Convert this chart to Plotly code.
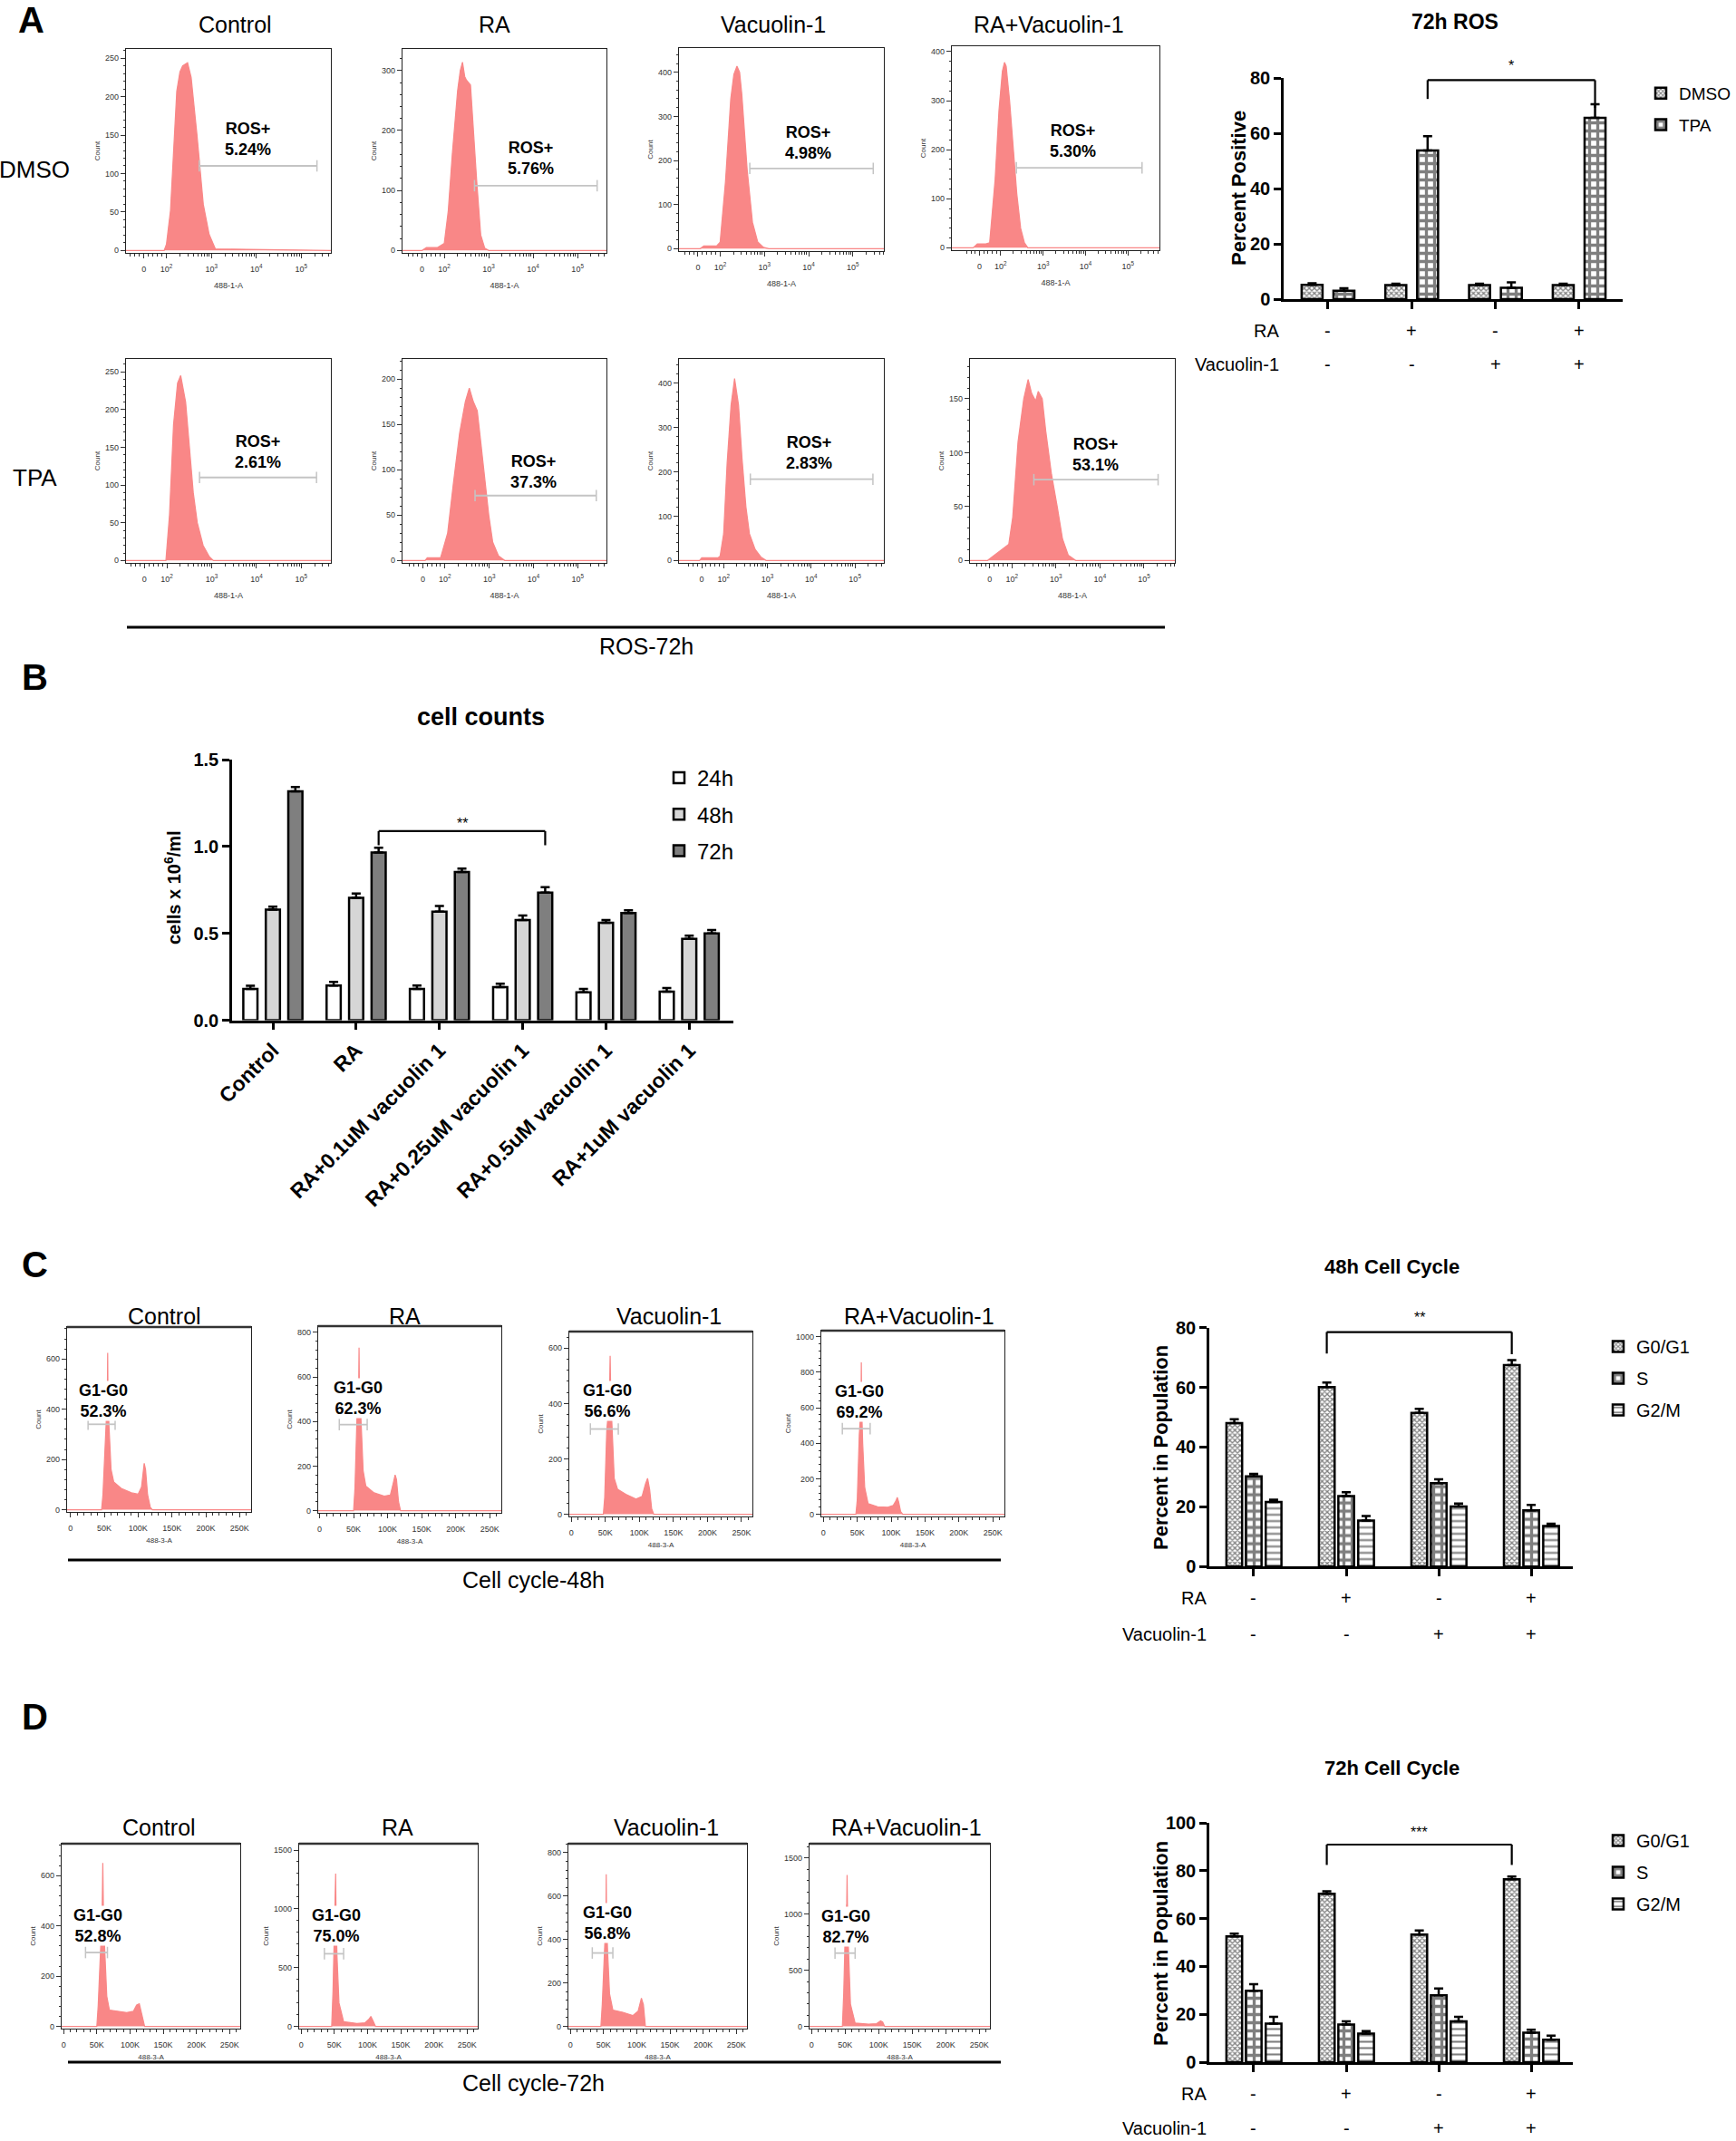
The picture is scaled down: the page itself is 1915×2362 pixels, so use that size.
import math
import plotly.graph_objects as go

W, H = 1915, 2362

# ======================= DATA =======================
conditions = ["Control", "RA", "Vacuolin-1", "RA+Vacuolin-1"]
ra_signs = ["-", "+", "-", "+"]
vac_signs = ["-", "-", "+", "+"]

# 72h ROS (percent positive)
ros_dmso_mean = [5.2, 5.1, 5.1, 5.1]
ros_dmso_err = [0.5, 0.5, 0.5, 0.5]
ros_tpa_mean = [3.0, 53.8, 4.1, 65.6]
ros_tpa_err = [0.9, 5.1, 2.0, 4.9]

# cell counts (x10^6/ml)
count_groups = ["Control", "RA", "RA+0.1uM vacuolin 1", "RA+0.25uM vacuolin 1",
                "RA+0.5uM vacuolin 1", "RA+1uM vacuolin 1"]
count_24h = [0.18, 0.20, 0.18, 0.19, 0.16, 0.165]
count_24h_err = [0.018, 0.02, 0.02, 0.02, 0.02, 0.02]
count_48h = [0.636, 0.705, 0.625, 0.576, 0.561, 0.468]
count_48h_err = [0.018, 0.024, 0.033, 0.026, 0.015, 0.019]
count_72h = [1.318, 0.965, 0.853, 0.734, 0.617, 0.50]
count_72h_err = [0.024, 0.028, 0.019, 0.032, 0.015, 0.019]

# 48h cell cycle (%)
cc48_g0g1 = [48.0, 60.1, 51.4, 67.4]
cc48_g0g1_err = [1.3, 1.5, 1.4, 1.7]
cc48_s = [30.2, 23.6, 27.9, 18.8]
cc48_s_err = [0.8, 1.3, 1.3, 1.8]
cc48_g2m = [21.6, 15.4, 20.1, 13.6]
cc48_g2m_err = [0.8, 1.5, 1.0, 0.7]

# 72h cell cycle (%)
cc72_g0g1 = [52.6, 70.4, 53.3, 76.4]
cc72_g0g1_err = [1.1, 1.0, 1.7, 1.2]
cc72_s = [29.8, 15.7, 27.9, 12.3]
cc72_s_err = [2.8, 1.3, 2.9, 1.2]
cc72_g2m = [16.1, 11.9, 17.0, 9.4]
cc72_g2m_err = [2.8, 1.1, 1.9, 1.7]

# ROS flow histograms (x in display decades: 2 = 10^2, ...; y = count)
ros_dmso_ctrl_x = [1.1, 1.95, 2.0, 2.09, 2.16, 2.23, 2.3, 2.36, 2.47, 2.55, 2.68, 2.82, 2.95, 3.09, 5.66]
ros_dmso_ctrl_y = [0, 0, 8, 52, 130, 207, 232, 240, 244, 225, 150, 60, 21, 2, 0]
ros_dmso_ra_x = [1.06, 1.5, 1.6, 1.85, 2.0, 2.09, 2.18, 2.25, 2.3, 2.36, 2.41, 2.46, 2.5, 2.59, 2.64, 2.73, 2.82, 2.91, 3.0, 5.65]
ros_dmso_ra_y = [0, 0, 5, 5, 12, 66, 160, 216, 266, 300, 314, 290, 284, 276, 216, 116, 26, 4, 0, 0]
ros_dmso_vac_x = [1.07, 1.55, 1.63, 1.92, 2.0, 2.12, 2.24, 2.31, 2.38, 2.44, 2.49, 2.61, 2.73, 2.85, 2.98, 3.1, 5.7]
ros_dmso_vac_y = [0, 0, 6, 6, 15, 151, 340, 395, 414, 400, 350, 180, 60, 15, 3, 0, 0]
ros_dmso_ravac_x = [0.85, 1.35, 1.45, 1.65, 1.74, 1.87, 1.96, 2.04, 2.09, 2.13, 2.21, 2.3, 2.38, 2.47, 2.56, 2.64, 5.74]
ros_dmso_ravac_y = [0, 0, 8, 8, 10, 140, 280, 360, 378, 370, 300, 200, 110, 40, 10, 0, 0]
ros_tpa_ctrl_x = [1.09, 1.98, 2.06, 2.15, 2.24, 2.31, 2.42, 2.5, 2.59, 2.68, 2.81, 2.95, 3.04, 5.66]
ros_tpa_ctrl_y = [0, 0, 60, 180, 235, 245, 210, 150, 90, 50, 20, 5, 0, 0]
ros_tpa_ra_x = [1.04, 1.55, 1.6, 1.9, 1.93, 2.06, 2.19, 2.33, 2.46, 2.55, 2.64, 2.73, 2.81, 2.9, 2.99, 3.08, 3.21, 3.35, 5.65]
ros_tpa_ra_y = [0, 0, 3, 3, 8, 30, 85, 140, 175, 190, 175, 165, 130, 90, 50, 20, 5, 0, 0]
ros_tpa_vac_x = [0.98, 1.45, 1.5, 1.87, 1.92, 2.0, 2.08, 2.17, 2.25, 2.34, 2.42, 2.51, 2.59, 2.72, 2.85, 2.97, 5.66]
ros_tpa_vac_y = [0, 0, 6, 6, 10, 60, 220, 350, 410, 350, 230, 120, 60, 25, 8, 0, 0]
ros_tpa_ravac_x = [1.05, 1.45, 1.51, 1.76, 1.93, 2.02, 2.14, 2.27, 2.37, 2.45, 2.54, 2.6, 2.69, 2.77, 2.9, 3.03, 3.15, 3.28, 3.45, 5.7]
ros_tpa_ravac_y = [0, 0, 2, 10, 15, 40, 110, 150, 168, 155, 148, 157, 150, 120, 80, 50, 20, 5, 0, 0]

ros_dmso_pct = ["5.24%", "5.76%", "4.98%", "5.30%"]
ros_tpa_pct = ["2.61%", "37.3%", "2.83%", "53.1%"]
# gates: [start, end, count level]
ros_dmso_gates = [[2.73, 5.35, 110], [2.68, 5.44, 108], [2.67, 5.46, 182], [2.37, 5.33, 163]]
ros_tpa_gates = [[2.73, 5.34, 110], [2.68, 5.42, 71.5], [2.61, 5.41, 183], [2.5, 5.32, 75]]

# cell-cycle histograms (x in thousands, y = count)
cc48_ctrl_x = [-5, 46, 48, 52, 54.5, 55, 55.5, 57, 60, 64, 75, 90, 100, 105, 109, 111, 114, 118, 121, 267]
cc48_ctrl_y = [0, 0, 60, 330, 450, 624, 450, 330, 160, 110, 85, 68, 62, 90, 185, 160, 60, 10, 0, 0]
cc48_ra_x = [-2, 50, 52, 55, 57.5, 58, 58.5, 61, 64, 68, 80, 95, 104, 108, 111, 113, 116, 119, 267]
cc48_ra_y = [0, 0, 100, 420, 550, 731, 550, 400, 180, 110, 80, 65, 70, 120, 160, 140, 40, 0, 0]
cc48_vac_x = [-3, 47, 49, 52, 56, 57, 58, 60, 63, 68, 80, 95, 104, 109, 112, 115, 118, 121, 266]
cc48_vac_y = [0, 0, 60, 300, 420, 572, 420, 300, 130, 90, 72, 55, 65, 110, 130, 90, 20, 0, 0]
cc48_ravac_x = [-3, 48, 50, 53, 55.5, 56, 56.5, 58, 61, 66, 80, 95, 103, 107, 109, 111, 114, 117, 267]
cc48_ravac_y = [0, 0, 80, 450, 600, 855, 600, 400, 150, 60, 42, 40, 50, 75, 95, 70, 15, 0, 0]
cc72_ctrl_x = [-3, 50, 52, 55, 58, 59, 60, 62, 65, 69, 81, 95, 105, 110, 114, 116, 119, 122, 266]
cc72_ctrl_y = [0, 0, 80, 300, 450, 650, 450, 300, 120, 65, 60, 55, 60, 85, 90, 70, 30, 0, 0]
cc72_ra_x = [-3, 46, 48, 50, 51.5, 52, 52.5, 54, 57, 64, 84, 96, 102, 105, 108, 112, 266]
cc72_ra_y = [0, 0, 300, 800, 1000, 1300, 1000, 600, 200, 40, 25, 30, 60, 85, 50, 0, 0]
cc72_vac_x = [-3, 46, 48, 51, 53.5, 54, 54.5, 56, 59, 64, 79, 94, 102, 107, 110, 113, 266]
cc72_vac_y = [0, 0, 100, 350, 500, 700, 500, 350, 150, 75, 65, 50, 70, 130, 100, 0, 0]
cc72_ravac_x = [-3, 46, 48, 50.5, 52.5, 53, 53.5, 55, 58, 65, 85, 97, 103, 106, 109, 266]
cc72_ravac_y = [0, 0, 300, 900, 1100, 1350, 1100, 700, 200, 30, 20, 25, 50, 40, 0, 0]

cc48_pct = ["52.3%", "62.3%", "56.6%", "69.2%"]
cc72_pct = ["52.8%", "75.0%", "56.8%", "82.7%"]
cc48_gates = [[26, 66, 340], [29, 70, 386], [28, 69, 308], [28, 69, 482]]
cc72_gates = [[33, 66, 294], [35, 64, 618], [33, 64, 338], [35, 65, 653]]

# ======================= STYLE / LAYOUT =======================
FONT = "Liberation Sans, Arial, sans-serif"
NARROW = "Liberation Sans Narrow, Liberation Sans, Arial, sans-serif"
RED = "#f98787"
GATE = "#c4c4c4"


def px(x):
    return x / W


def py(y):
    return 1 - y / H


def ref(k, a):
    return a if k == 1 else f"{a}{k}"


def axn(k, a):
    return f"{a}axis" if k == 1 else f"{a}axis{k}"


fig = go.Figure()
layout = dict(width=W, height=H, margin=dict(l=0, r=0, t=0, b=0, pad=0, autoexpand=False),
              paper_bgcolor="white", plot_bgcolor="white", barmode="overlay",
              font=dict(family=FONT, color="black"), showlegend=True)
annotations = []
shapes = []


def text(x, y, s, size, bold=False, family=FONT, xanchor="center", yanchor="middle",
         xref="paper", yref="paper", angle=0, bg=None):
    d = dict(x=x, y=y, xref=xref, yref=yref, text=s, showarrow=False,
             xanchor=xanchor, yanchor=yanchor, textangle=angle,
             font=dict(size=size, family=family, color="black",
                       weight="bold" if bold else "normal"))
    if bg:
        d["bgcolor"] = bg
        d["borderpad"] = 0
    annotations.append(d)


log_minor = [math.log10(m) + d for d in range(2, 6) for m in range(2, 10) if math.log10(m) + d < 5.7]
log_minor += [1.2, 1.3, 1.4, 1.6, 1.7, 1.8, 1.9]


def hist_panel(k, box, xs, ys, xrange, ytop, ydtick, gate, pct, lab, kind):
    x0, y0, x1, y1 = box
    xr, yr = ref(k, "x"), ref(k, "y")
    fig.add_trace(go.Scatter(x=xs, y=ys, xaxis=xr, yaxis=yr, mode="lines",
                             line=dict(color=RED, width=1.2), fill="tozeroy",
                             fillcolor=RED, showlegend=False, hoverinfo="skip"))
    fig.add_trace(go.Scatter(x=[gate[0], gate[1]], y=[gate[2], gate[2]], xaxis=xr, yaxis=yr,
                             mode="lines+markers", line=dict(color=GATE, width=1.8),
                             marker=dict(symbol="line-ns", size=9, line=dict(color=GATE, width=1.5)),
                             showlegend=False, hoverinfo="skip"))
    common = dict(showline=True, mirror=True, linecolor="#222", linewidth=1.3,
                  ticks="outside", tickwidth=1, ticklen=5, tickcolor="#333",
                  showgrid=False, zeroline=False, tickfont=dict(size=9, color="#333"))
    if kind == "ros":
        xa = dict(tickmode="array", tickvals=[1.5, 2, 3, 4, 5],
                  ticktext=["0", "10<sup>2</sup>", "10<sup>3</sup>", "10<sup>4</sup>", "10<sup>5</sup>"],
                  minor=dict(ticks="outside", ticklen=3, tickmode="array", tickvals=log_minor, tickcolor="#333"),
                  title=dict(text="488-1-A", font=dict(size=9, color="#333"), standoff=10))
        text(lab[0], lab[1], f"ROS+<br>{pct}", 18, bold=True, xref=xr, yref=yr)
    else:
        xa = dict(tickmode="array", tickvals=[0, 50, 100, 150, 200, 250],
                  ticktext=["0", "50K", "100K", "150K", "200K", "250K"],
                  minor=dict(ticks="outside", ticklen=3, dtick=10, tickcolor="#333"),
                  title=dict(text="488-3-A", font=dict(size=8, color="#333"), standoff=6))
        text(lab[0], lab[1], f"G1-G0<br>{pct}", 18, bold=True, xref=xr, yref=yr,
             xanchor="left", family=NARROW, bg="white")
        # heavier top frame, as in the cell-cycle plots
        shapes.append(dict(type="line", xref="paper", yref="paper", x0=px(x0), x1=px(x1),
                           y0=py(y0), y1=py(y0), line=dict(color="#333", width=2.5)))
    layout[axn(k, "x")] = dict(domain=[px(x0), px(x1)], anchor=yr, range=xrange,
                               ticklabelstandoff=4, **xa, **common)
    layout[axn(k, "y")] = dict(domain=[py(y1), py(y0)], anchor=xr, range=[-ytop * 0.012, ytop],
                               dtick=ydtick, minor=dict(ticks="outside", ticklen=2, dtick=ydtick / 5,
                                                        tickcolor="#333"),
                               title=dict(text="Count", font=dict(size=8, color="#333"), standoff=4),
                               **common)


# ---------- Panel A: ROS histograms ----------
ros_boxes_row1 = [(139, 54, 365, 279), (444, 54, 669, 279), (749, 53, 975, 277), (1050, 51, 1279, 276)]
ros_boxes_row2 = [(139, 396, 365, 621), (444, 396, 669, 621), (749, 396, 975, 621), (1070, 396, 1296, 621)]
ros_dmso_data = [(ros_dmso_ctrl_x, ros_dmso_ctrl_y), (ros_dmso_ra_x, ros_dmso_ra_y),
                 (ros_dmso_vac_x, ros_dmso_vac_y), (ros_dmso_ravac_x, ros_dmso_ravac_y)]
ros_tpa_data = [(ros_tpa_ctrl_x, ros_tpa_ctrl_y), (ros_tpa_ra_x, ros_tpa_ra_y),
                (ros_tpa_vac_x, ros_tpa_vac_y), (ros_tpa_ravac_x, ros_tpa_ravac_y)]
ros_dmso_xr = [[1.1, 5.66], [1.06, 5.65], [1.07, 5.7], [0.85, 5.74]]
ros_tpa_xr = [[1.09, 5.66], [1.04, 5.65], [0.98, 5.66], [1.05, 5.7]]
ros_dmso_ytop = [(262, 50), (336, 100), (455, 100), (411, 100)]
ros_tpa_ytop = [(267, 50), (222, 50), (454, 100), (187, 50)]
ros_dmso_lab = [(3.82, 145), (3.95, 154), (3.98, 240), (3.7, 218)]
ros_tpa_lab = [(4.03, 144), (4.0, 98), (3.95, 242), (3.9, 98)]

k = 1
for i in range(4):
    hist_panel(k, ros_boxes_row1[i], *ros_dmso_data[i], ros_dmso_xr[i], *ros_dmso_ytop[i],
               ros_dmso_gates[i], ros_dmso_pct[i], ros_dmso_lab[i], "ros")
    k += 1
for i in range(4):
    hist_panel(k, ros_boxes_row2[i], *ros_tpa_data[i], ros_tpa_xr[i], *ros_tpa_ytop[i],
               ros_tpa_gates[i], ros_tpa_pct[i], ros_tpa_lab[i], "ros")
    k += 1

text(px(34), py(22), "A", 40, bold=True)
for xc, name in zip([259, 545, 853, 1157], conditions):
    text(px(xc), py(27), name, 25)
text(px(38), py(187), "DMSO", 26)
text(px(38), py(527), "TPA", 26)
shapes.append(dict(type="line", xref="paper", yref="paper", x0=px(140), x1=px(1285),
                   y0=py(692), y1=py(692), line=dict(color="black", width=3)))
text(px(713), py(713), "ROS-72h", 25)

# ---------- bar chart helpers ----------
PAT_X = dict(shape="x", size=4, solidity=0.55, fgcolor="black", fillmode="overlay")
PAT_CHK = dict(shape="+", size=9, solidity=0.6, fgcolor="black", fillmode="overlay")
PAT_H = dict(shape="-", size=7, solidity=0.3, fgcolor="black", fillmode="overlay")


def add_bar(k, x, y, err, name, offset, width, color, pattern, legend):
    marker = dict(color=color, line=dict(color="black", width=2.5))
    if pattern:
        marker["pattern"] = pattern
    fig.add_trace(go.Bar(x=x, y=y, name=name, xaxis=ref(k, "x"), yaxis=ref(k, "y"),
                         offset=offset, width=width, marker=marker,
                         error_y=dict(type="data", array=err, arrayminus=[0] * len(err),
                                      symmetric=False, color="black", thickness=2.5, width=5),
                         legend=legend, legendgroup=f"{legend}-{name}", hoverinfo="skip"))


def bar_axes(k, box, xrange, yrange, ydtick, tickvals, ticktext=None, tickangle=0):
    x0, y0, x1, y1 = box
    line = dict(showline=True, linecolor="black", linewidth=2.5, ticks="outside",
                ticklen=8, tickwidth=2.5, tickcolor="black", showgrid=False, zeroline=False)
    xa = dict(domain=[px(x0), px(x1)], anchor=ref(k, "y"), range=xrange, tickmode="array",
              tickvals=tickvals, **line)
    if ticktext is None:
        xa["showticklabels"] = False
    else:
        xa["ticktext"] = ticktext
        xa["tickangle"] = tickangle
        xa["tickfont"] = dict(size=23, weight="bold")
    layout[axn(k, "x")] = xa
    layout[axn(k, "y")] = dict(domain=[py(y1), py(y0)], anchor=ref(k, "x"), range=yrange,
                               dtick=ydtick, tickfont=dict(size=20, weight="bold"), **line)


def bracket(k, xl, xr_, ytop, yl, yr_, stars, ystar, ymax):
    for (a, b, c, d) in [(xl, yl, xl, ytop), (xl, ytop, xr_, ytop), (xr_, ytop, xr_, yr_)]:
        shapes.append(dict(type="line", xref=ref(k, "x"), yref=ref(k, "y"), x0=a, y0=b, x1=c, y1=d,
                           line=dict(color="black", width=2.2)))
    # star placed in axis-domain units so it may sit above the top of the range
    text((xl + xr_) / 2, ystar / ymax, stars, 16, xref=ref(k, "x"), yref=ref(k, "y") + " domain")


def sign_rows(k, y_ra, y_vac, xlab):
    idx = list(range(len(conditions)))
    for i in idx:
        text(i, py(y_ra), ra_signs[i], 20, xref=ref(k, "x"), family=NARROW)
        text(i, py(y_vac), vac_signs[i], 20, xref=ref(k, "x"), family=NARROW)
    text(px(xlab), py(y_ra), "RA", 20, family=NARROW, xanchor="right")
    text(px(xlab), py(y_vac), "Vacuolin-1", 20, family=NARROW, xanchor="right")


# ---------- 72h ROS bar chart ----------
K_ROS = 9
grp = list(range(len(conditions)))
ros_w = 0.25
ros_centers = [-0.19, 0.19]
add_bar(K_ROS, grp, ros_dmso_mean, ros_dmso_err, "DMSO", ros_centers[0] - ros_w / 2, ros_w, "white", PAT_X, "legend")
add_bar(K_ROS, grp, ros_tpa_mean, ros_tpa_err, "TPA", ros_centers[1] - ros_w / 2, ros_w, "white", PAT_CHK, "legend")
bar_axes(K_ROS, (1416, 86, 1790, 330), [-0.53, 3.52], [0, 80], 20, grp)
bracket(K_ROS, 1 + ros_centers[1], 3 + ros_centers[1], 79.2, 72.4, 69.2, "*", 84.5, 80)
sign_rows(K_ROS, 365, 402, 1413)
text(px(1605), py(24), "72h ROS", 23, bold=True)
text(px(1366), py(208), "Percent Positive", 22, bold=True, angle=-90)
layout["legend"] = dict(x=px(1812), y=py(84), xanchor="left", yanchor="top",
                        font=dict(size=19, family=NARROW), tracegroupgap=7,
                        bgcolor="rgba(0,0,0,0)")

# ---------- Panel B: cell counts ----------
K_B = 10
cgrp = list(range(len(count_groups)))
b_w = 0.17
b_centers = [-0.27, 0.0, 0.27]
add_bar(K_B, cgrp, count_24h, count_24h_err, "24h", b_centers[0] - b_w / 2, b_w, "white", None, "legend2")
add_bar(K_B, cgrp, count_48h, count_48h_err, "48h", b_centers[1] - b_w / 2, b_w, "#d6d6d6", None, "legend2")
add_bar(K_B, cgrp, count_72h, count_72h_err, "72h", b_centers[2] - b_w / 2, b_w, "#7f7f7f", None, "legend2")
bar_axes(K_B, (256, 838, 809, 1125.5), [-0.49, 5.53], [0, 1.5], 0.5, cgrp, count_groups, -45)
layout[axn(K_B, "y")]["tickformat"] = ".1f"
bracket(K_B, 1 + b_centers[2], 3 + b_centers[2], 1.088, 1.007, 1.007, "**", 1.13, 1.5)
text(px(38), py(747), "B", 40, bold=True)
text(px(530), py(791), "cell counts", 27, bold=True)
text(px(191), py(979), "cells x 10<sup>6</sup>/ml", 20, bold=True, angle=-90)
layout["legend2"] = dict(x=px(729), y=py(836), xanchor="left", yanchor="top",
                         font=dict(size=24, family=NARROW), tracegroupgap=6,
                         bgcolor="rgba(0,0,0,0)")

# ---------- Panel C: 48h cell cycle histograms ----------
cc48_boxes = [(74, 1464, 277, 1668), (351, 1463, 553, 1669), (628, 1469, 830, 1673), (906, 1468, 1108, 1673)]
cc48_data = [(cc48_ctrl_x, cc48_ctrl_y), (cc48_ra_x, cc48_ra_y), (cc48_vac_x, cc48_vac_y), (cc48_ravac_x, cc48_ravac_y)]
cc48_xr = [[-5, 267], [-2, 267], [-3, 266], [-3, 267]]
cc48_ytop = [(727, 200), (828, 200), (660, 200), (1034, 200)]
cc48_lab = [(11, 433), (19, 505), (16, 409), (16, 633)]
k = 11
for i in range(4):
    hist_panel(k, cc48_boxes[i], *cc48_data[i], cc48_xr[i], *cc48_ytop[i],
               cc48_gates[i], cc48_pct[i], cc48_lab[i], "cc")
    k += 1
text(px(38), py(1395), "C", 40, bold=True)
for xc, name in zip([181, 446, 738, 1014], conditions):
    text(px(xc), py(1452), name, 25)
shapes.append(dict(type="line", xref="paper", yref="paper", x0=px(75), x1=px(1104),
                   y0=py(1721), y1=py(1721), line=dict(color="black", width=3)))
text(px(588), py(1743), "Cell cycle-48h", 25)

# ---------- 48h cell cycle bar chart ----------
K_48 = 15
cc_w = 0.17
cc_centers = [-0.21, 0.0, 0.215]
add_bar(K_48, grp, cc48_g0g1, cc48_g0g1_err, "G0/G1", cc_centers[0] - cc_w / 2, cc_w, "white", PAT_X, "legend3")
add_bar(K_48, grp, cc48_s, cc48_s_err, "S", cc_centers[1] - cc_w / 2, cc_w, "white", PAT_CHK, "legend3")
add_bar(K_48, grp, cc48_g2m, cc48_g2m_err, "G2/M", cc_centers[2] - cc_w / 2, cc_w, "white", PAT_H, "legend3")
bar_axes(K_48, (1334, 1464.6, 1735, 1728.2), [-0.48, 3.45], [0, 80], 20, grp)
bracket(K_48, 1 + cc_centers[0], 3 + cc_centers[0], 78.5, 71.3, 71.1, "**", 83.5, 80)
sign_rows(K_48, 1763, 1803, 1333)
text(px(1535), py(1397), "48h Cell Cycle", 22, bold=True)
text(px(1280), py(1597), "Percent in Population", 22, bold=True, angle=-90)
layout["legend3"] = dict(x=px(1765), y=py(1466), xanchor="left", yanchor="top",
                         font=dict(size=20, family=NARROW), tracegroupgap=6,
                         bgcolor="rgba(0,0,0,0)")

# ---------- Panel D: 72h cell cycle histograms ----------
cc72_boxes = [(68, 2034, 265, 2238), (330, 2034, 527, 2238), (627, 2034, 824, 2238), (893, 2034, 1092, 2238)]
cc72_data = [(cc72_ctrl_x, cc72_ctrl_y), (cc72_ra_x, cc72_ra_y), (cc72_vac_x, cc72_vac_y), (cc72_ravac_x, cc72_ravac_y)]
cc72_xr = [[-3, 266], [-3, 266], [-3, 266], [-3, 266]]
cc72_ytop = [(727, 200), (1554, 500), (841, 200), (1628, 500)]
cc72_lab = [(14, 402), (15, 855), (17, 474), (13, 886)]
k = 16
for i in range(4):
    hist_panel(k, cc72_boxes[i], *cc72_data[i], cc72_xr[i], *cc72_ytop[i],
               cc72_gates[i], cc72_pct[i], cc72_lab[i], "cc")
    k += 1
text(px(38), py(1894), "D", 40, bold=True)
for xc, name in zip([175, 438, 735, 1000], conditions):
    text(px(xc), py(2016), name, 25)
shapes.append(dict(type="line", xref="paper", yref="paper", x0=px(75), x1=px(1104),
                   y0=py(2275), y1=py(2275), line=dict(color="black", width=3)))
text(px(588), py(2298), "Cell cycle-72h", 25)

# ---------- 72h cell cycle bar chart ----------
K_72 = 20
add_bar(K_72, grp, cc72_g0g1, cc72_g0g1_err, "G0/G1", cc_centers[0] - cc_w / 2, cc_w, "white", PAT_X, "legend4")
add_bar(K_72, grp, cc72_s, cc72_s_err, "S", cc_centers[1] - cc_w / 2, cc_w, "white", PAT_CHK, "legend4")
add_bar(K_72, grp, cc72_g2m, cc72_g2m_err, "G2/M", cc_centers[2] - cc_w / 2, cc_w, "white", PAT_H, "legend4")
bar_axes(K_72, (1334, 2011, 1735, 2275), [-0.48, 3.45], [0, 100], 20, grp)
bracket(K_72, 1 + cc_centers[0], 3 + cc_centers[0], 90.9, 82.4, 82.4, "***", 96.0, 100)
sign_rows(K_72, 2310, 2348, 1333)
text(px(1535), py(1950), "72h Cell Cycle", 22, bold=True)
text(px(1280), py(2144), "Percent in Population", 22, bold=True, angle=-90)
layout["legend4"] = dict(x=px(1765), y=py(2011), xanchor="left", yanchor="top",
                         font=dict(size=20, family=NARROW), tracegroupgap=6,
                         bgcolor="rgba(0,0,0,0)")

layout["annotations"] = annotations
layout["shapes"] = shapes
fig.update_layout(**layout)
# remove the browser's default page margin so the figure sits at the window's corner
fig.write_html("out.html", config={"displayModeBar": False},
               post_script="document.body.style.margin='0';document.body.style.overflow='hidden';")
